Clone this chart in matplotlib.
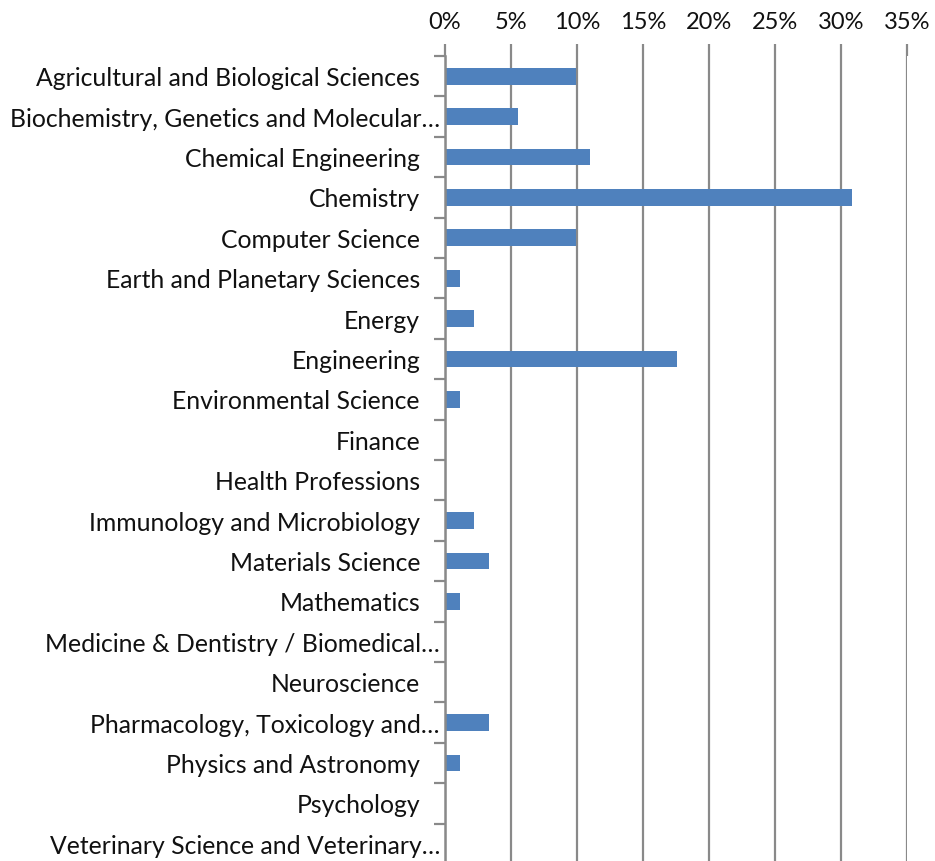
import numpy as np
import matplotlib.pyplot as plt
import matplotlib.transforms as mtransforms
from matplotlib.ticker import MultipleLocator, PercentFormatter

plt.rcParams['font.family'] = ['Lato', 'DejaVu Sans']

categories = [
    "Agricultural and Biological Sciences",
    "Biochemistry, Genetics and Molecular…",
    "Chemical Engineering",
    "Chemistry",
    "Computer Science",
    "Earth and Planetary Sciences",
    "Energy",
    "Engineering",
    "Environmental Science",
    "Finance",
    "Health Professions",
    "Immunology and Microbiology",
    "Materials Science",
    "Mathematics",
    "Medicine & Dentistry / Biomedical…",
    "Neuroscience",
    "Pharmacology, Toxicology and…",
    "Physics and Astronomy",
    "Psychology",
    "Veterinary Science and Veterinary…",
]
share = [9.9, 5.5, 11.0, 30.8, 9.9, 1.1, 2.2, 17.6, 1.1, 0.0,
         0.0, 2.2, 3.3, 1.1, 0.0, 0.0, 3.3, 1.1, 0.0, 0.0]

W, H = 935, 862
fig = plt.figure(figsize=(W / 100, H / 100), dpi=100)
# plot area runs slightly past the bottom edge, as in the source image
ax = fig.add_axes([445 / W, (H - 865) / H, (907 - 445) / W, (865 - 57) / H])

grid_col = "#898989"
y = np.arange(len(categories))
ax.barh(y, share, height=0.42, color="#4F81BD", zorder=3)

ax.set_ylim(len(categories) - 0.5, -0.5)
ax.set_xlim(0, 35)

# x axis on top, Excel-like gridlines
ax.xaxis.tick_top()
ax.xaxis.set_major_locator(MultipleLocator(5))
ax.xaxis.set_major_formatter(PercentFormatter(decimals=0))
ax.tick_params(axis="x", length=9, width=1.6, color=grid_col,
               labelsize=17, pad=8, labelcolor="#111111")
ax.grid(axis="x", color=grid_col, linewidth=1.6, zorder=1)

# y ticks at category boundaries, labels drawn as text
ax.set_yticks(np.arange(len(categories) + 1) - 0.5)
ax.set_yticklabels([])
ax.tick_params(axis="y", length=8, width=1.6, color=grid_col)

for s in ["top", "right", "bottom"]:
    ax.spines[s].set_visible(False)
ax.spines["left"].set_color(grid_col)
ax.spines["left"].set_linewidth(1.8)
ax.spines["left"].set_zorder(4)

trans = mtransforms.blended_transform_factory(ax.transAxes, ax.transData)
for i, name in enumerate(categories):
    gap = 5 if name.endswith("…") else 25
    off = mtransforms.ScaledTranslation(-gap / 100, -1.5 / 100, fig.dpi_scale_trans)
    ax.text(0, i, name, transform=trans + off, ha="right", va="center",
            fontsize=17.8, color="#111111")

fig.savefig("out.png", dpi=100)
